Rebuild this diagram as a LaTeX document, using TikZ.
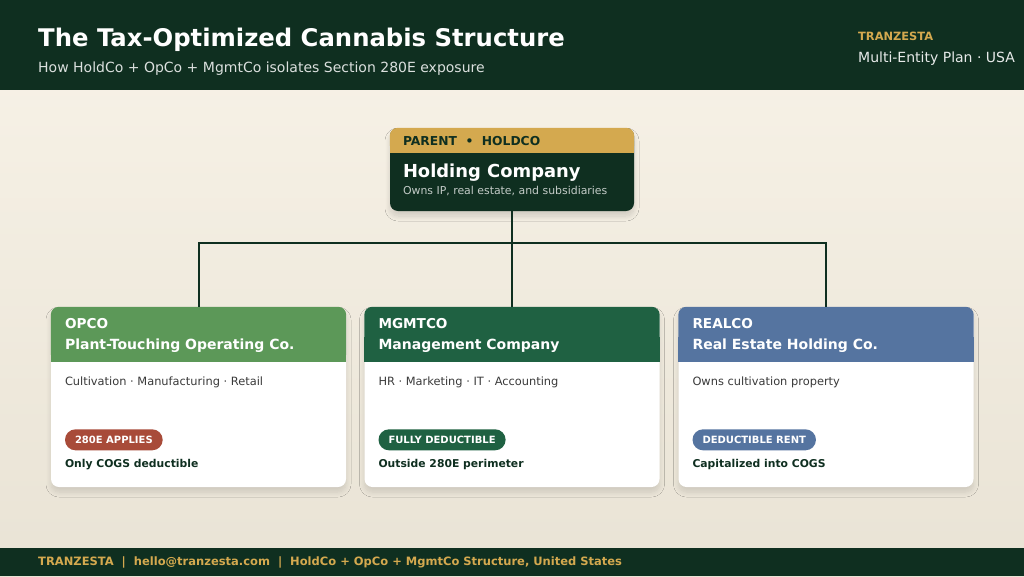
\documentclass[tikz,border=0pt]{standalone}
\usepackage{fontspec}
\setmainfont{DejaVu Sans}
\usetikzlibrary{positioning,shadows.blur}
\definecolor{deepgreen}{HTML}{0F2F20}
\definecolor{goldtone}{HTML}{D4A94F}
\definecolor{creamtop}{HTML}{F8F3E8}
\definecolor{creambot}{HTML}{E9E3D5}
\definecolor{opgreen}{HTML}{5C9858}
\definecolor{mgmtgreen}{HTML}{1F6142}
\definecolor{realblue}{HTML}{5574A0}
\definecolor{badgered}{HTML}{A84B39}
\definecolor{bodygray}{HTML}{3A3A3A}

\begin{document}
\begin{tikzpicture}[x=1pt,y=-1pt]
    \tikzstyle{plain} = [inner sep=0pt, anchor=west]
    \tikzstyle{card} = [rectangle, rounded corners=8pt, fill=white, minimum width=295pt, minimum height=180pt, inner sep=0pt, blur shadow={shadow xshift=0pt, shadow yshift=-5pt, shadow opacity=12, shadow blur radius=5pt, shadow blur steps=10}]
    \tikzstyle{holdbox} = [rectangle, rounded corners=8pt, fill=deepgreen, minimum width=244pt, minimum height=83pt, inner sep=0pt, blur shadow={shadow xshift=0pt, shadow yshift=-5pt, shadow opacity=14, shadow blur radius=5pt, shadow blur steps=10}]
    \tikzstyle{pill} = [rectangle, rounded corners=10.5pt, minimum height=21pt, inner xsep=10pt, inner ysep=0pt, anchor=west, text=white, font=\bfseries\fontsize{10}{12}\selectfont]
    \tikzstyle{link} = [draw=deepgreen, line width=2pt]

    % Backdrop, header and footer bands
    \shade[top color=creamtop, bottom color=creambot] (0,0) rectangle (1024,576);
    \fill[deepgreen] (0,0) rectangle (1024,90);
    \fill[deepgreen] (0,548) rectangle (1024,576);

    % Header texts
    \node[plain, text=white, font=\bfseries\fontsize{24.3}{28}\selectfont] (title) at (38,40) {The Tax-Optimized Cannabis Structure};
    \node[plain, text=white!85!deepgreen, font=\fontsize{14}{16}\selectfont] (subtitle) at (38,68.5) {How HoldCo + OpCo + MgmtCo isolates Section 280E exposure};
    \node[plain, text=goldtone, font=\bfseries\fontsize{11.4}{13}\selectfont] (brand) at (858,36.5) {TRANZESTA};
    \node[plain, text=white!90!deepgreen, font=\fontsize{14}{16}\selectfont] (plan) at (858,58.5) {Multi-Entity Plan · USA};
    \node[plain, text=goldtone, font=\bfseries\fontsize{11.5}{13}\selectfont] (footer) at (38,562.5) {TRANZESTA\ \ |\ \ hello@tranzesta.com\ \ |\ \ HoldCo + OpCo + MgmtCo Structure, United States};

    % Parent company
    \node[holdbox] (holdco) at (512,169.5) {};
    \fill[goldtone, rounded corners=8pt] (holdco.north west) rectangle ([yshift=-25pt]holdco.north east);
    \fill[goldtone] ([yshift=-14pt]holdco.north west) rectangle ([yshift=-25pt]holdco.north east);
    \node[plain, text=deepgreen, font=\bfseries\fontsize{12.3}{14}\selectfont] (holdtag) at ([xshift=13pt,yshift=-13pt]holdco.north west) {PARENT\ \ •\ \ HOLDCO};
    \node[plain, text=white, font=\bfseries\fontsize{17.9}{21}\selectfont] (holdtitle) at ([xshift=13pt,yshift=-44.5pt]holdco.north west) {Holding Company};
    \node[plain, text=white!75!deepgreen, font=\fontsize{10.9}{12}\selectfont] (holdbody) at ([xshift=13pt,yshift=-63pt]holdco.north west) {Owns IP, real estate, and subsidiaries};

    % Subsidiaries
    \foreach \name/\cx/\col/\bcol/\tag/\title/\body/\badge/\note in {
        opco/198.5/opgreen/badgered/OPCO/{Plant-Touching Operating Co.}/{Cultivation · Manufacturing · Retail}/{280E APPLIES}/{Only COGS deductible},
        mgmtco/512/mgmtgreen/mgmtgreen/MGMTCO/{Management Company}/{HR · Marketing · IT · Accounting}/{FULLY DEDUCTIBLE}/{Outside 280E perimeter},
        realco/826/realblue/realblue/REALCO/{Real Estate Holding Co.}/{Owns cultivation property}/{DEDUCTIBLE RENT}/{Capitalized into COGS}}{
        \node[card] (\name) at (\cx,397) {};
        \fill[\col, rounded corners=8pt] (\name.north west) rectangle ([yshift=-55pt]\name.north east);
        \fill[\col] ([yshift=-30pt]\name.north west) rectangle ([yshift=-55pt]\name.north east);
        \node[plain, text=white, font=\bfseries\fontsize{13.6}{15}\selectfont] (\name-tag) at ([xshift=14pt,yshift=-17pt]\name.north west) {\tag};
        \node[plain, text=white, font=\bfseries\fontsize{14}{16}\selectfont] (\name-title) at ([xshift=14pt,yshift=-39pt]\name.north west) {\title};
        \node[plain, text=bodygray, font=\fontsize{11.4}{13}\selectfont] (\name-body) at ([xshift=14pt,yshift=-76pt]\name.north west) {\body};
        \node[pill, fill=\bcol] (\name-badge) at ([xshift=14pt,yshift=-133pt]\name.north west) {\badge};
        \node[plain, text=deepgreen, font=\bfseries\fontsize{10.8}{12}\selectfont] (\name-note) at ([xshift=14pt,yshift=-158pt]\name.north west) {\note};
    }

    % Ownership lines
    \coordinate (bus) at (512,243);
    \draw[link] (holdco.south) -- (mgmtco.north);
    \draw[link] (opco.north) |- (bus) -| (realco.north);

\end{tikzpicture}
\end{document}
